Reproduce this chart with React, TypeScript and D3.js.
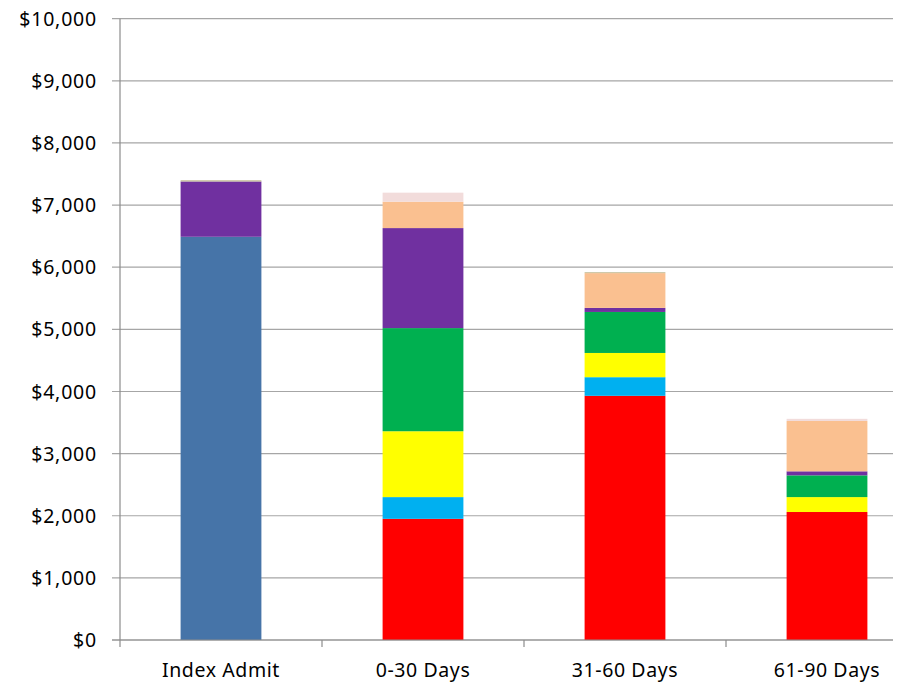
import React from "react";
import * as d3 from "d3";

const categories = ["Index Admit", "0-30 Days", "31-60 Days", "61-90 Days"];
const yTicks = [0, 1000, 2000, 3000, 4000, 5000, 6000, 7000, 8000, 9000, 10000];

const seriesNames = ["Index", "Red", "LightBlue", "Yellow", "Green", "Purple", "Peach", "Pink", "Olive"];
const indexValues = [6490, 0, 0, 0];
const redValues = [0, 1950, 3930, 2060];
const lightBlueValues = [0, 350, 300, 0];
const yellowValues = [0, 1060, 390, 240];
const greenValues = [0, 1660, 660, 350];
const purpleValues = [890, 1610, 65, 65];
const peachValues = [0, 425, 560, 810];
const pinkValues = [0, 145, 0, 35];
const oliveValues = [20, 0, 15, 0];

const seriesValues = [indexValues, redValues, lightBlueValues, yellowValues, greenValues, purpleValues, peachValues, pinkValues, oliveValues];
const colors = ["#4674A8", "#FF0000", "#00B0F0", "#FFFF00", "#00B050", "#7030A0", "#FAC090", "#F2DCDB", "#C4BD97"];

export default function App() {
  const W = 901, H = 685;
  const left = 120, right = 893, top = 18.7, bottom = 640;
  const x = d3.scaleBand<string>().domain(categories).range([left, 928]).paddingInner(0.6).paddingOuter(0.3);
  const y = d3.scaleLinear().domain([0, 10000]).range([bottom, top]);

  const table = categories.map((c, i) => {
    const row: any = { cat: c };
    seriesNames.forEach((s, j) => (row[s] = seriesValues[j][i]));
    return row;
  });
  const stacked = d3.stack<any>().keys(seriesNames)(table);
  const fmt = (v: number) => "$" + d3.format(",")(v);
  const font = "'Noto Sans', 'Open Sans', sans-serif";
  const step = x.step();
  const catTicks = categories.map((_, i) => left + i * step);

  return (
    <svg width={W} height={H} style={{ position: "absolute", left: 0, top: 0, background: "#fff" }}>
      {yTicks.map((t) => (
        <line key={"g" + t} x1={left - 8} x2={right} y1={y(t)} y2={y(t)} stroke="#A6A6A6" strokeWidth={1.2} />
      ))}
      {stacked.map((layer, j) => (
        <g key={layer.key} fill={colors[j]}>
          {layer.map((d, i) =>
            d[1] - d[0] > 0 ? (
              <rect key={i} x={x(categories[i])} width={x.bandwidth()} y={y(d[1])} height={y(d[0]) - y(d[1])} />
            ) : null
          )}
        </g>
      ))}
      <line x1={left} x2={left} y1={top} y2={bottom} stroke="#8C8C8C" strokeWidth={1.2} />
      <line x1={left - 8} x2={right} y1={bottom} y2={bottom} stroke="#8C8C8C" strokeWidth={1.2} />
      {catTicks.map((cx, i) => (
        <line key={"ct" + i} x1={cx} x2={cx} y1={bottom} y2={bottom + 7} stroke="#8C8C8C" strokeWidth={1.2} />
      ))}
      {yTicks.map((t) => (
        <text key={"yl" + t} x={97} y={y(t)} dy="0.36em" textAnchor="end" fontFamily={font} fontSize={19.5} letterSpacing={0.8} fill="#000">
          {fmt(t)}
        </text>
      ))}
      {categories.map((c) => (
        <text key={"xl" + c} x={(x(c) as number) + x.bandwidth() / 2} y={677} textAnchor="middle" fontFamily={font} fontSize={19.5} letterSpacing={0.6} fill="#000">
          {c}
        </text>
      ))}
    </svg>
  );
}
